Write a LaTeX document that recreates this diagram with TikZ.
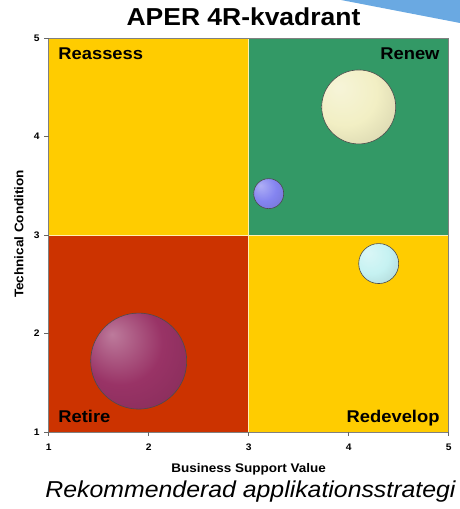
\documentclass[tikz,border=0pt]{standalone}
\usepackage{fontspec}
\setmainfont{Liberation Sans}[FakeStretch=1.08]
\usetikzlibrary{positioning}

\definecolor{quadyellow}{HTML}{FFCC00}
\definecolor{quadgreen}{HTML}{339966}
\definecolor{quadred}{HTML}{CC3300}
\definecolor{cornerblue}{HTML}{6AA9E2}
\definecolor{bubcream}{HTML}{F2EFC4}
\definecolor{bubblue}{HTML}{8484F0}
\definecolor{bubcyan}{HTML}{C6F2F2}
\definecolor{bubplum}{HTML}{993366}

\colorlet{bubcol}{white}
\pgfdeclareradialshading[bubcol]{bubble}{\pgfpoint{-14bp}{14bp}}{%
  color(0bp)=(bubcol!65!white);
  color(22bp)=(bubcol);
  color(48bp)=(bubcol!84!black);
  color(70bp)=(bubcol!78!black)}

\begin{document}
\begin{tikzpicture}[x=1pt,y=1pt,
    quadlabel/.style={font=\bfseries\fontsize{17}{20}\selectfont,inner sep=0pt},
    ticklabel/.style={font=\bfseries\fontsize{9.5}{11}\selectfont,inner sep=0pt},
    axislabel/.style={font=\bfseries\fontsize{12.5}{15}\selectfont,inner sep=0pt},
    bubble/.style={circle,shading=bubble,draw=black!70,line width=0.6pt,inner sep=0pt}]
\useasboundingbox (0,0) rectangle (460,509);

\fill[cornerblue] (341,509) -- (460,509) -- (460,486) -- cycle;
\node[font=\bfseries\fontsize{24.5}{29}\selectfont,inner sep=0pt,anchor=base] (title) at (243.5,483) {APER 4R-kvadrant};

\begin{scope}[shift={(-51.3,-21.5)},x=100pt,y=98.5pt]
  % quadrants
  \fill[quadyellow] (1,3) rectangle (3,5);
  \fill[quadgreen] (3,3) rectangle (5,5);
  \fill[quadred] (1,1) rectangle (3,3);
  \fill[quadyellow] (3,1) rectangle (5,3);
  \draw[white!70!quadyellow,line width=0.7pt] (3,1) -- (3,5) (1,3) -- (5,3);
  \draw[black!50,line width=0.7pt] (1,1) rectangle (5,5);

  % ticks
  \foreach \v in {1,...,5}
    {\draw[black!60,line width=0.7pt] (1,\v) -- ++(-4.5pt,0);
     \draw[black!60,line width=0.7pt] (\v,1) -- ++(0,-4.5pt);
     \node[ticklabel,anchor=east] (ytick\v) [shift={(-9pt,0)}] at (1,\v) {\v};
     \node[ticklabel,anchor=north] (xtick\v) [shift={(0,-11.5pt)}] at (\v,1) {\v};}

  \node[quadlabel,anchor=base west] (reassess) [shift={(9.5pt,-22pt)}] at (1,5) {Reassess};
  \node[quadlabel,anchor=base east] (renew) [shift={(-9pt,-22pt)}] at (5,5) {Renew};
  \node[quadlabel,anchor=base west] (retire) [shift={(9.5pt,9pt)}] at (1,1) {Retire};
  \node[quadlabel,anchor=base east] (redevelop) [shift={(-9pt,9pt)}] at (5,1) {Redevelop};

  % bubbles
  \foreach \name/\x/\y/\r/\col in {big/4.1/4.3/37/bubcream, small/3.2/3.42/15/bubblue,
                                    mid/4.3/2.71/20/bubcyan, plum/1.9/1.72/48/bubplum}
    {\colorlet{bubcol}{\col}
     \node[bubble,minimum size=2*\r pt] (\name) at (\x,\y) {};}
\end{scope}

\node[axislabel,anchor=base] (xlabel) at (248.7,36) {Business Support Value};
\node[axislabel,rotate=90] (ylabel) at (19,275) {Technical Condition};
\node[font=\itshape\fontsize{23}{27}\selectfont,inner sep=0pt,anchor=base] (caption) at (250.5,12) {Rekommenderad applikationsstrategi};
\end{tikzpicture}
\end{document}
